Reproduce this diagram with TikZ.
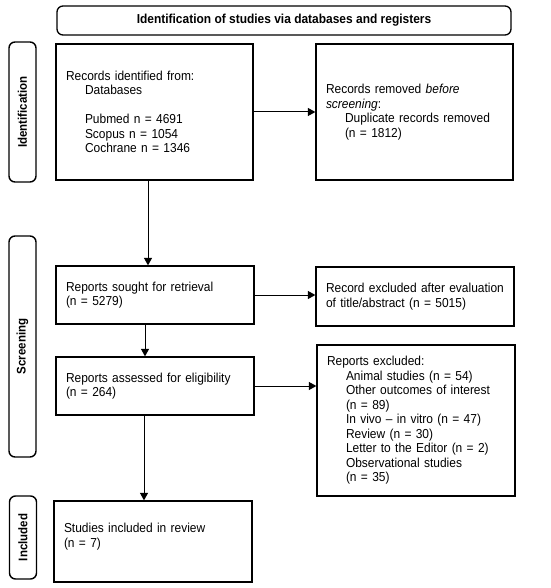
\documentclass[tikz,border=0pt]{standalone}
\usepackage{fontspec}
\setmainfont{Liberation Sans}[FakeStretch=0.92]
\usetikzlibrary{arrows.meta}
\newcommand\myind{\hspace*{19pt}}
\begin{document}
\begin{tikzpicture}[x=1pt,y=-1pt,
  box/.style={draw, line width=1.3pt, inner xsep=10pt, inner ysep=0pt, align=left,
    font=\fontsize{13}{14.5}\selectfont},
  phase/.style={draw, line width=1.4pt, rounded corners=6pt, rotate=90, inner sep=0pt,
    font=\bfseries\fontsize{12.5}{13}\selectfont, minimum height=27pt},
  titlebox/.style={draw, line width=1.3pt, rounded corners=6pt, inner sep=0pt,
    font=\bfseries\fontsize{13}{14}\selectfont, minimum width=454pt, minimum height=29pt},
  arr/.style={line width=1pt, -{Triangle[length=7.5pt,width=8pt]}}]
\useasboundingbox (0,0) rectangle (550,588);

\node[titlebox] (title) at (284,20.5) {Identification of studies via databases and registers};

\node[phase, minimum width=140pt] (pid) at (22.5,112) {Identification};
\node[phase, minimum width=221pt] (pscr) at (22.5,346.5) {Screening};
\node[phase, minimum width=83pt] (pinc) at (23,537.5) {Included};

\node[box, text width=177pt, minimum width=197pt, minimum height=136pt] (ident) at (154.5,112)
 {Records identified from:\\ \myind Databases\\[14.5pt] \myind Pubmed n = 4691\\ \myind Scopus n = 1054\\ \myind Cochrane n = 1346};
\node[box, text width=177pt, minimum width=197pt, minimum height=136pt] (removed) at (414.5,112)
 {Records removed \textit{before}\\ \textit{screening}:\\ \myind Duplicate records removed\\ \myind (n = 1812)};
\node[box, text width=178pt, minimum width=198pt, minimum height=58pt] (sought) at (155,295)
 {Reports sought for retrieval\\(n = 5279)};
\node[box, text width=178pt, minimum width=198pt, minimum height=59pt] (excl1) at (415,296.5)
 {\mbox{Record excluded after evaluation}\\of title/abstract (n = 5015)};
\node[box, text width=178pt, minimum width=198pt, minimum height=58pt] (assessed) at (155,386)
 {Reports assessed for eligibility\\(n = 264)};
\node[box, text width=178pt, minimum width=198pt, minimum height=151pt] (excl2) at (416,420.5)
 {Reports excluded:\\ \myind Animal studies (n = 54)\\ \myind Other outcomes of interest\\ \myind (n = 89)\\ \myind In vivo -- in vitro (n = 47)\\ \myind Review (n = 30)\\ \myind Letter to the Editor (n = 2)\\ \myind Observational studies\\ \myind (n = 35)};
\node[box, text width=178pt, minimum width=198pt, minimum height=81pt] (included) at (153,541.5)
 {Studies included in review\\(n = 7)\\[-2pt]\mbox{}};

\draw[arr] (ident.east) -- (ident.east -| removed.west);
\draw[arr] ([xshift=-6.5pt]ident.south) -- ([xshift=-6.5pt]ident.south |- sought.north);
\draw[arr] (sought.east) -- (sought.east -| excl1.west);
\draw[arr] ([xshift=-10pt]sought.south) -- ([xshift=-10pt]sought.south |- assessed.north);
\draw[arr] (assessed.east) -- (assessed.east -| excl2.west);
\draw[arr] ([xshift=-11pt]assessed.south) -- ([xshift=-11pt]assessed.south |- included.north);
\end{tikzpicture}
\end{document}
